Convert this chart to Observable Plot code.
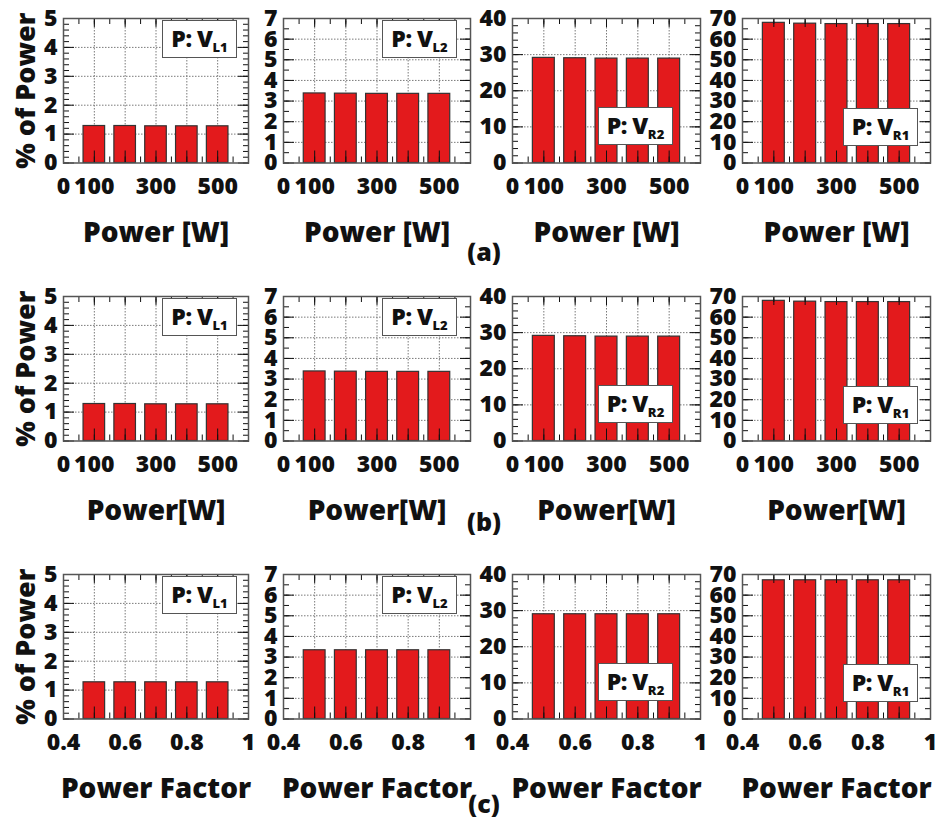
<!DOCTYPE html>
<html><head><meta charset="utf-8">
<script src="https://cdn.jsdelivr.net/npm/d3@7"></script>
<script src="https://cdn.jsdelivr.net/npm/@observablehq/plot@0.6"></script>
<style>
body{margin:0;background:#fff;}
#fig{position:relative;width:939px;height:820px;overflow:hidden;font-family:"Open Sans",Lato,sans-serif;color:#111;}
.panel{position:absolute;}
.panel svg{max-width:none !important;}
.legend{position:absolute;box-sizing:border-box;width:75px;height:38px;border:1.5px solid #555;background:#fff;font-weight:800;font-size:23px;line-height:35px;text-align:center;white-space:nowrap;letter-spacing:-0.5px;}
.legend sub{font-size:13px;vertical-align:-5px;line-height:0;letter-spacing:0;}
.tag{position:absolute;font-weight:800;font-size:25px;transform:translate(-50%,-50%);}
</style></head><body><div id="fig"></div>
<script>
// ---- data ----
const powerLevels = [100, 200, 300, 400, 500];
const pfLevels = [0.5, 0.6, 0.7, 0.8, 0.9];
const powerTickLabels = [0, 100, 300, 500];
const pfTickLabels = [0.4, 0.6, 0.8, 1];

const a_VL1 = [1.28, 1.28, 1.27, 1.27, 1.27];
const a_VL2 = [3.37, 3.36, 3.35, 3.35, 3.35];
const a_VR2 = [29.1, 29.0, 28.9, 28.9, 28.9];
const a_VR1 = [67.9, 67.5, 67.3, 67.3, 67.3];

const b_VL1 = [1.28, 1.28, 1.27, 1.27, 1.27];
const b_VL2 = [3.37, 3.36, 3.35, 3.35, 3.35];
const b_VR2 = [29.1, 29.0, 28.9, 28.9, 28.9];
const b_VR1 = [67.9, 67.5, 67.3, 67.3, 67.3];

const c_VL1 = [1.27, 1.27, 1.27, 1.27, 1.27];
const c_VL2 = [3.33, 3.33, 3.33, 3.33, 3.33];
const c_VR2 = [29.0, 29.0, 29.0, 29.0, 29.0];
const c_VR1 = [67.2, 67.2, 67.2, 67.2, 67.2];

const legendNames = [["L", "1"], ["L", "2"], ["R", "2"], ["R", "1"]];
const rowXLabels = ["Power [W]", "Power[W]", "Power Factor"];
const rowTags = ["(a)", "(b)", "(c)"];
const yLabel = "% of Power";

const yMaxes = [5, 7, 40, 70];
const yMajorSteps = [1, 1, 10, 10];
const yMinorSteps = [0.2, 0.5, 2, 5];

// ---- layout ----
const colFrames = [[63, 248], [283, 470], [512, 700], [742, 930]];
const rowTops = [17.5, 295.5, 573.5];
const frameH = 144.5;
const mL = 70, mR = 8, mT = 10, mB = 95;
const legendPos = [ // offsets from frame: [right, top or null, bottom or null]
  [11, 2.5, null], [13, 2.5, null], [27, null, 17], [12, null, 16]
];
const tagPos = [[484, 251], [484, 521], [484, 803]];

const rows = [
  {levels: powerLevels, series: [a_VL1, a_VL2, a_VR2, a_VR1]},
  {levels: powerLevels, series: [b_VL1, b_VL2, b_VR2, b_VR1]},
  {levels: pfLevels, series: [c_VL1, c_VL2, c_VR2, c_VR1]}
];

const fig = document.getElementById("fig");
const ink = "#111";
const font = "'Open Sans', Lato, sans-serif";
const gridStyle = {stroke: "#7a7a7a", strokeOpacity: 1, strokeDasharray: "1.5,1.5", strokeWidth: 1};

function steps(max, step) {
  const n = Math.round(max / step);
  return d3.range(0, n + 1).map(i => +(i * step).toFixed(6));
}

rows.forEach((row, r) => {
  const isPF = r === 2;
  const xDomain = isPF ? [0.4, 1] : [0, 600];
  const xMajor = isPF ? d3.range(4, 11).map(i => i / 10) : d3.range(0, 7).map(i => i * 100);
  const xMinor = isPF ? d3.range(8, 21).map(i => i / 20) : d3.range(0, 13).map(i => i * 50);
  const hw = isPF ? 0.035 : 35;
  const xTickLabels = isPF ? pfTickLabels : powerTickLabels;
  row.series.forEach((vals, c) => {
    const data = row.levels.map((x, i) => ({x, v: vals[i]}));
    const [fx0, fx1] = colFrames[c];
    const fw = fx1 - fx0;
    const yMax = yMaxes[c];
    const yMajor = steps(yMax, yMajorSteps[c]);
    const yMinor = steps(yMax, yMinorSteps[c]);
    const marks = [
      Plot.gridY(yMajor.filter(v => v > 0 && v < yMax), gridStyle),
      Plot.gridX(row.levels, gridStyle),
      Plot.rectY(data, {x1: d => d.x - hw, x2: d => d.x + hw, y1: 0, y2: "v", fill: "#e31a1c", stroke: "#333", strokeWidth: 1.2}),
      // inward ticks
      Plot.axisY(yMajor, {anchor: "left", tickSize: -11, fill: "none", stroke: ink, label: null}),
      Plot.axisY(yMinor, {anchor: "left", tickSize: -6, fill: "none", stroke: ink, label: null}),
      Plot.axisY(yMajor, {anchor: "right", tickSize: -11, fill: "none", stroke: ink, label: null}),
      Plot.axisY(yMinor, {anchor: "right", tickSize: -6, fill: "none", stroke: ink, label: null}),
      Plot.axisX(xMajor, {anchor: "bottom", tickSize: -12, fill: "none", stroke: ink, label: null}),
      Plot.axisX(xMinor, {anchor: "bottom", tickSize: -6, fill: "none", stroke: ink, label: null}),
      Plot.axisX(xMajor, {anchor: "top", tickSize: -8, fill: "none", stroke: ink, label: null}),
      Plot.axisX(xMinor, {anchor: "top", tickSize: -5, fill: "none", stroke: ink, label: null}),
      // tick labels
      Plot.axisY(yMajor, {anchor: "left", tickSize: 0, tickPadding: 6, stroke: "none", fill: ink, fontSize: 23, fontWeight: 800, label: null}),
      Plot.axisX(xTickLabels, {anchor: "bottom", tickSize: 0, tickPadding: 15, stroke: "none", fill: ink, fontSize: 23, fontWeight: 800, label: null, tickFormat: d => String(d)}),
      Plot.frame({stroke: "#555", strokeWidth: 1.5}),
      Plot.text([rowXLabels[r]], {frameAnchor: "bottom", lineAnchor: "middle", dy: 70, text: d => d, fontSize: 28, fontWeight: 800, fill: ink})
    ];
    if (c === 0) {
      marks.push(Plot.text([yLabel], {frameAnchor: "left", textAnchor: "middle", rotate: -90, dx: -37, text: d => d, fontSize: 27, fontWeight: 800, fill: ink}));
    }
    const svg = Plot.plot({
      width: mL + fw + mR,
      height: mT + frameH + mB,
      marginLeft: mL, marginRight: mR, marginTop: mT, marginBottom: mB,
      x: {domain: xDomain},
      y: {domain: [0, yMax]},
      style: {background: "none", overflow: "visible", fontFamily: font, maxWidth: "none"},
      marks
    });
    const wrap = document.createElement("div");
    wrap.className = "panel";
    wrap.style.left = (fx0 - mL) + "px";
    wrap.style.top = (rowTops[r] - mT) + "px";
    wrap.style.width = (mL + fw + mR) + "px";
    wrap.appendChild(svg);
    fig.appendChild(wrap);

    // legend box
    const [rOff, tOff, bOff] = legendPos[c];
    const lg = document.createElement("div");
    lg.className = "legend";
    lg.innerHTML = `P: V<sub>${legendNames[c][0]}${legendNames[c][1]}</sub>`;
    lg.style.left = (fx1 - rOff - 75) + "px";
    lg.style.top = (tOff !== null ? rowTops[r] + tOff : rowTops[r] + frameH - bOff - 38) + "px";
    fig.appendChild(lg);
  });
  const tag = document.createElement("div");
  tag.className = "tag";
  tag.textContent = rowTags[r];
  tag.style.left = tagPos[r][0] + "px";
  tag.style.top = tagPos[r][1] + "px";
  fig.appendChild(tag);
});
</script>
</body></html>
